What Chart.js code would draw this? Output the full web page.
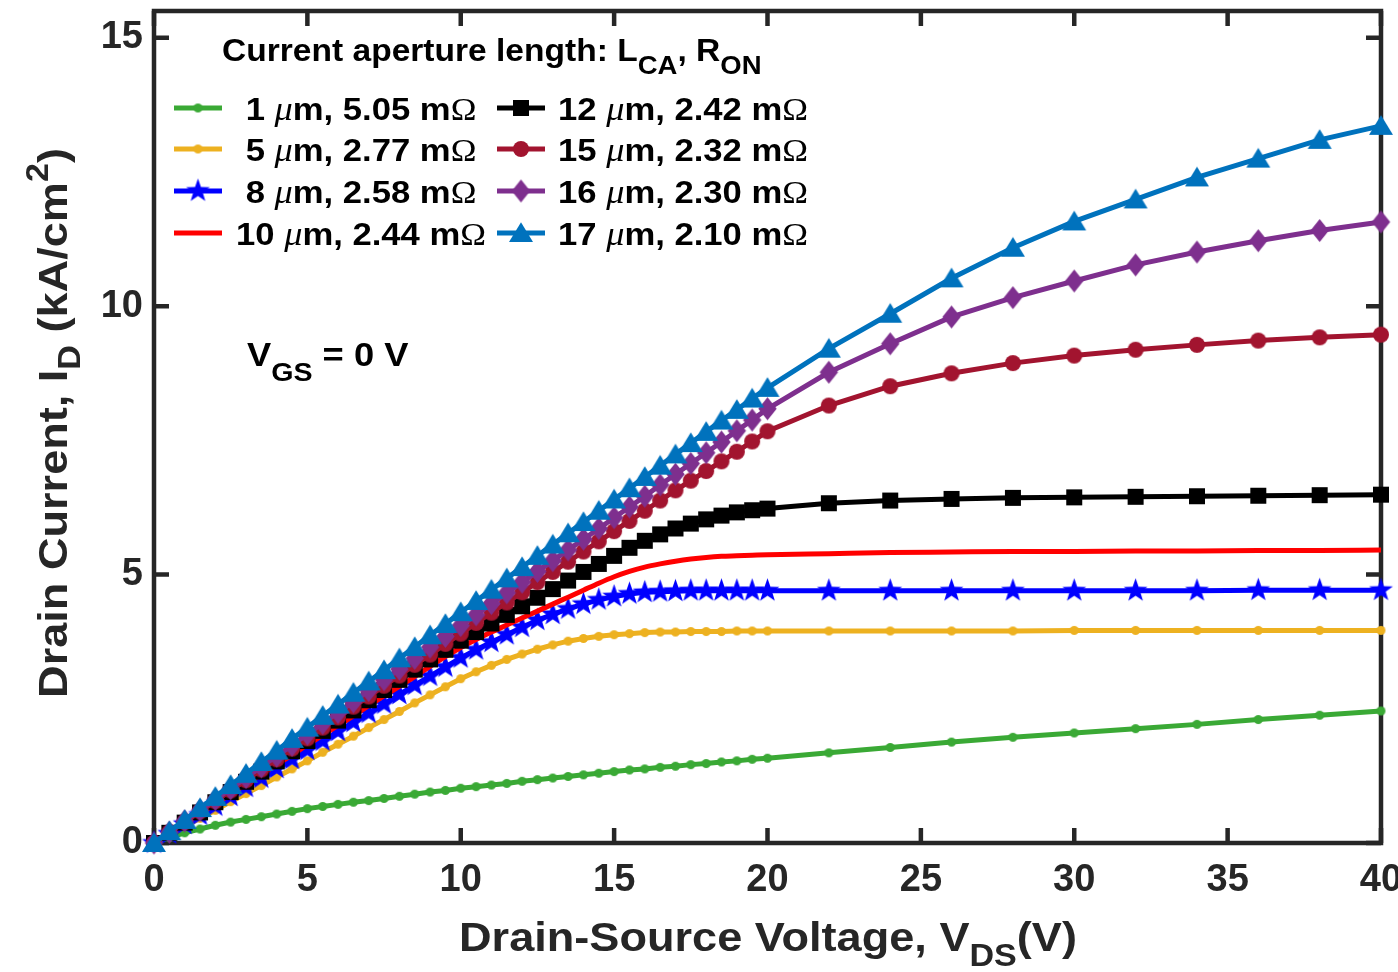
<!DOCTYPE html>
<html>
<head>
<meta charset="utf-8">
<script src="https://cdn.jsdelivr.net/npm/chart.js@4.4.1/dist/chart.umd.min.js"></script>
<style>
  html, body { margin: 0; padding: 0; background: #fff; }
</style>
</head>
<body>
<canvas id="chart" width="1398" height="972"></canvas>
<script>
// drain-source voltage grid (V)
var vds = [0, 0.5, 1, 1.5, 2, 2.5, 3, 3.5, 4, 4.5, 5, 5.5, 6, 6.5, 7, 7.5, 8, 8.5, 9, 9.5,
  10, 10.5, 11, 11.5, 12, 12.5, 13, 13.5, 14, 14.5, 15, 15.5, 16, 16.5, 17, 17.5, 18, 18.5, 19, 19.5,
  20, 22, 24, 26, 28, 30, 32, 34, 36, 38, 40];

// current aperture length (um) and on-resistance (mOhm)
var lcaLabels = ['1', '5', '8', '10', '12', '15', '16', '17'];
var ronLabels = ['5.05', '2.77', '2.58', '2.44', '2.42', '2.32', '2.30', '2.10'];

// drain current (kA/cm2)
var id1 = [0, 0.10, 0.19, 0.26, 0.33, 0.39, 0.44, 0.49, 0.54, 0.59, 0.64, 0.68, 0.72, 0.76, 0.79, 0.83, 0.87, 0.91, 0.95, 0.98,
  1.02, 1.05, 1.08, 1.11, 1.15, 1.18, 1.21, 1.24, 1.27, 1.30, 1.33, 1.36, 1.38, 1.41, 1.43, 1.46, 1.48, 1.51, 1.53, 1.56,
  1.58, 1.68, 1.78, 1.88, 1.97, 2.05, 2.13, 2.21, 2.30, 2.38, 2.46];
var id5 = [0, 0.15, 0.31, 0.46, 0.61, 0.77, 0.92, 1.07, 1.23, 1.38, 1.53, 1.69, 1.84, 1.99, 2.15, 2.30, 2.45, 2.61, 2.76, 2.91,
  3.06, 3.19, 3.31, 3.42, 3.52, 3.61, 3.69, 3.76, 3.81, 3.85, 3.88, 3.90, 3.92, 3.93, 3.93, 3.94, 3.94, 3.94, 3.95, 3.95,
  3.95, 3.95, 3.95, 3.95, 3.95, 3.96, 3.96, 3.96, 3.96, 3.96, 3.96];
var id8 = [0, 0.17, 0.35, 0.52, 0.69, 0.87, 1.04, 1.21, 1.39, 1.56, 1.73, 1.90, 2.08, 2.25, 2.42, 2.59, 2.77, 2.94, 3.11, 3.28,
  3.45, 3.60, 3.74, 3.88, 4.02, 4.15, 4.26, 4.36, 4.45, 4.53, 4.59, 4.64, 4.67, 4.68, 4.69, 4.70, 4.70, 4.70, 4.70, 4.70,
  4.70, 4.70, 4.70, 4.70, 4.70, 4.70, 4.70, 4.70, 4.71, 4.71, 4.71];
var id10 = [0, 0.18, 0.37, 0.55, 0.73, 0.91, 1.10, 1.28, 1.46, 1.64, 1.83, 2.01, 2.19, 2.37, 2.56, 2.74, 2.92, 3.10, 3.29, 3.47,
  3.64, 3.79, 3.93, 4.06, 4.19, 4.32, 4.45, 4.58, 4.71, 4.84, 4.96, 5.06, 5.14, 5.20, 5.25, 5.29, 5.32, 5.34, 5.35, 5.36,
  5.37, 5.39, 5.41, 5.42, 5.43, 5.43, 5.44, 5.44, 5.45, 5.45, 5.46];
var id12 = [0, 0.19, 0.38, 0.57, 0.76, 0.95, 1.14, 1.33, 1.52, 1.71, 1.90, 2.09, 2.28, 2.47, 2.66, 2.85, 3.04, 3.23, 3.42, 3.60,
  3.77, 3.93, 4.09, 4.25, 4.41, 4.57, 4.73, 4.89, 5.05, 5.20, 5.35, 5.50, 5.63, 5.75, 5.86, 5.95, 6.03, 6.10, 6.16, 6.20,
  6.23, 6.33, 6.38, 6.41, 6.43, 6.44, 6.45, 6.46, 6.47, 6.48, 6.49];
var id15 = [0, 0.20, 0.39, 0.59, 0.78, 0.98, 1.17, 1.37, 1.56, 1.76, 1.95, 2.15, 2.34, 2.54, 2.73, 2.93, 3.12, 3.32, 3.51, 3.71,
  3.90, 4.10, 4.29, 4.48, 4.67, 4.86, 5.05, 5.24, 5.43, 5.62, 5.81, 6.00, 6.19, 6.38, 6.57, 6.75, 6.93, 7.11, 7.29, 7.48,
  7.67, 8.15, 8.51, 8.75, 8.94, 9.08, 9.19, 9.28, 9.36, 9.42, 9.47];
var id16 = [0, 0.20, 0.41, 0.61, 0.81, 1.01, 1.22, 1.42, 1.62, 1.82, 2.03, 2.23, 2.43, 2.63, 2.84, 3.04, 3.24, 3.44, 3.65, 3.85,
  4.05, 4.25, 4.46, 4.66, 4.86, 5.06, 5.26, 5.46, 5.66, 5.86, 6.06, 6.26, 6.46, 6.67, 6.87, 7.07, 7.27, 7.47, 7.68, 7.88,
  8.09, 8.77, 9.30, 9.80, 10.16, 10.47, 10.77, 11.01, 11.22, 11.41, 11.57];
var id17 = [0, 0.22, 0.43, 0.65, 0.86, 1.08, 1.29, 1.51, 1.72, 1.94, 2.15, 2.37, 2.58, 2.80, 3.01, 3.22, 3.44, 3.65, 3.87, 4.08,
  4.30, 4.51, 4.72, 4.93, 5.14, 5.35, 5.56, 5.77, 5.98, 6.19, 6.40, 6.61, 6.82, 7.03, 7.24, 7.45, 7.66, 7.87, 8.07, 8.28,
  8.48, 9.21, 9.86, 10.52, 11.09, 11.58, 11.99, 12.40, 12.75, 13.10, 13.36];

var xTicks = [0, 5, 10, 15, 20, 25, 30, 35, 40];
var yTicks = [0, 5, 10, 15];

var axisColor = '#262626';
var sans = '"Liberation Sans", Arial, sans-serif';
var serif = '"Liberation Serif", "DejaVu Serif", serif';
var stretch = 1.1; // the figure's text is a little wider than the font

function makeMarker(shape, size, color) {
  var s = Math.ceil(size) + 2;
  var c = document.createElement('canvas');
  c.width = s; c.height = s;
  var g = c.getContext('2d');
  var m = s / 2, r = size / 2;
  g.fillStyle = color;
  g.beginPath();
  if (shape === 'circle') {
    g.arc(m, m, r, 0, Math.PI * 2);
  } else if (shape === 'square') {
    g.rect(m - r, m - r, size, size);
  } else if (shape === 'diamond') {
    g.moveTo(m, m - r); g.lineTo(m + r * 0.8, m); g.lineTo(m, m + r); g.lineTo(m - r * 0.8, m);
  } else if (shape === 'triangle') {
    g.moveTo(m, m - r * 0.9); g.lineTo(m + r, m + r * 0.75); g.lineTo(m - r, m + r * 0.75);
  } else if (shape === 'star') {
    for (var i = 0; i < 10; i++) {
      var a = -Math.PI / 2 + i * Math.PI / 5;
      var rr = i % 2 ? r * 0.4 : r;
      g.lineTo(m + rr * Math.cos(a), m + rr * Math.sin(a));
    }
  }
  g.closePath();
  g.fill();
  return c;
}

var series = [
  { values: id1, color: '#3aa935', marker: makeMarker('circle', 9, '#3aa935') },
  { values: id5, color: '#edb120', marker: makeMarker('circle', 9, '#edb120') },
  { values: id8, color: '#0000ff', marker: makeMarker('star', 25, '#0000ff') },
  { values: id10, color: '#ff0000', marker: null },
  { values: id12, color: '#000000', marker: makeMarker('square', 16, '#000000') },
  { values: id15, color: '#a2142f', marker: makeMarker('circle', 16, '#a2142f') },
  { values: id16, color: '#7e2f8e', marker: makeMarker('diamond', 23, '#7e2f8e') },
  { values: id17, color: '#0072bd', marker: makeMarker('triangle', 24, '#0072bd') }
];

function drawRuns(ctx, runs, x, y, align) {
  var w = 0;
  runs.forEach(function (r) { ctx.font = r.font; w += ctx.measureText(r.text).width; });
  var x0 = align === 'center' ? x - w * stretch / 2 : x;
  ctx.save();
  ctx.translate(x0, y);
  ctx.scale(stretch, 1);
  ctx.textAlign = 'left';
  ctx.textBaseline = 'alphabetic';
  var cx = 0;
  runs.forEach(function (r) {
    ctx.font = r.font;
    ctx.fillText(r.text, cx, r.dy || 0);
    cx += ctx.measureText(r.text).width;
  });
  ctx.restore();
}

function bold(px) { return 'bold ' + px + 'px ' + sans; }

var decorations = {
  id: 'decorations',
  beforeDraw: function (chart) {
    var ctx = chart.ctx;
    ctx.save();
    ctx.fillStyle = '#fff';
    ctx.fillRect(0, 0, chart.width, chart.height);
    ctx.restore();
  },
  beforeDatasetsDraw: function (chart) {
    var ctx = chart.ctx, a = chart.chartArea;
    var xs = chart.scales.x, ys = chart.scales.y;
    ctx.save();
    ctx.strokeStyle = axisColor;
    ctx.lineWidth = 4.5;
    ctx.strokeRect(a.left, a.top, a.right - a.left, a.bottom - a.top);
    ctx.beginPath();
    xTicks.forEach(function (v) {
      var px = xs.getPixelForValue(v);
      ctx.moveTo(px, a.bottom); ctx.lineTo(px, a.bottom - 15);
      ctx.moveTo(px, a.top); ctx.lineTo(px, a.top + 15);
    });
    yTicks.forEach(function (v) {
      var py = ys.getPixelForValue(v);
      ctx.moveTo(a.left, py); ctx.lineTo(a.left + 15, py);
      ctx.moveTo(a.right, py); ctx.lineTo(a.right - 15, py);
    });
    ctx.stroke();
    ctx.restore();
  },
  afterDraw: function (chart) {
    var ctx = chart.ctx;
    ctx.save();
    ctx.fillStyle = axisColor;
    // x axis title
    drawRuns(ctx, [
      { text: 'Drain-Source Voltage, V', font: bold(41) },
      { text: 'DS', font: bold(31), dy: 15 },
      { text: '(V)', font: bold(41) }
    ], 768, 951, 'center');
    // y axis title
    ctx.save();
    ctx.translate(67, 423);
    ctx.rotate(-Math.PI / 2);
    drawRuns(ctx, [
      { text: 'Drain Current, I', font: bold(41) },
      { text: 'D', font: bold(31), dy: 13 },
      { text: ' (kA/cm', font: bold(41) },
      { text: '2', font: bold(31), dy: -19 },
      { text: ')', font: bold(41) }
    ], 0, 0, 'center');
    ctx.restore();

    // legend
    ctx.fillStyle = '#000';
    drawRuns(ctx, [
      { text: 'Current aperture length: L', font: bold(30.5) },
      { text: 'CA', font: bold(25), dy: 13 },
      { text: ', R', font: bold(30.5) },
      { text: 'ON', font: bold(25), dy: 13 }
    ], 222, 61);
    var rowBase = [120, 161, 203, 245];
    var cols = [{ c: 198, t: 236 }, { c: 521, t: 558 }];
    series.forEach(function (s, i) {
      var col = cols[Math.floor(i / 4)], base = rowBase[i % 4];
      var cy = base - 12;
      ctx.strokeStyle = s.color;
      ctx.lineWidth = 5;
      ctx.beginPath();
      ctx.moveTo(col.c - 24, cy); ctx.lineTo(col.c + 24, cy);
      ctx.stroke();
      if (s.marker) ctx.drawImage(s.marker, col.c - s.marker.width / 2, cy - s.marker.height / 2);
      var lca = lcaLabels[i].length < 2 ? ' ' + lcaLabels[i] : lcaLabels[i];
      drawRuns(ctx, [
        { text: lca + ' ', font: bold(31.5) },
        { text: '\u03bc', font: 'italic 33px ' + serif },
        { text: 'm, ' + ronLabels[i] + ' m', font: bold(31.5) },
        { text: '\u03a9', font: '31.5px ' + serif }
      ], col.t, base);
    });

    // gate bias annotation
    drawRuns(ctx, [
      { text: 'V', font: bold(33) },
      { text: 'GS', font: bold(26), dy: 15 },
      { text: ' = 0 V', font: bold(33) }
    ], 247, 366);
    ctx.restore();
  }
};

var tickFont = { family: sans, size: 38, weight: 'bold' };

new Chart(document.getElementById('chart'), {
  type: 'scatter',
  data: {
    datasets: series.map(function (s, i) {
      return {
        label: lcaLabels[i] + ' um, ' + ronLabels[i] + ' mOhm',
        data: vds.map(function (v, k) { return { x: v, y: s.values[k] }; }),
        showLine: true,
        borderColor: s.color,
        backgroundColor: s.color,
        borderWidth: 5,
        pointStyle: s.marker || false,
        pointRadius: s.marker ? 6 : 0,
        cubicInterpolationMode: s.marker ? 'default' : 'monotone',
        order: series.length - 1 - i,
        clip: false
      };
    })
  },
  options: {
    responsive: false,
    animation: false,
    devicePixelRatio: 1,
    layout: { padding: { top: 10, right: 17, left: 0, bottom: 0 } },
    plugins: { legend: { display: false }, tooltip: { enabled: false } },
    scales: {
      x: {
        type: 'linear', min: 0, max: 40,
        grid: { display: false, drawTicks: false },
        border: { display: false },
        ticks: { font: tickFont, color: axisColor, padding: 15, maxRotation: 0, autoSkip: false },
        afterBuildTicks: function (sc) { sc.ticks = xTicks.map(function (v) { return { value: v }; }); },
        afterFit: function (sc) { sc.height = 129; sc.paddingLeft = 0; sc.paddingRight = 0; }
      },
      y: {
        type: 'linear', min: 0, max: 15.5,
        grid: { display: false, drawTicks: false },
        border: { display: false },
        ticks: { font: tickFont, color: axisColor, padding: 11, autoSkip: false },
        afterBuildTicks: function (sc) { sc.ticks = yTicks.map(function (v) { return { value: v }; }); },
        afterFit: function (sc) { sc.width = 154; sc.paddingTop = 0; sc.paddingBottom = 0; }
      }
    }
  },
  plugins: [decorations]
});
</script>
</body>
</html>
